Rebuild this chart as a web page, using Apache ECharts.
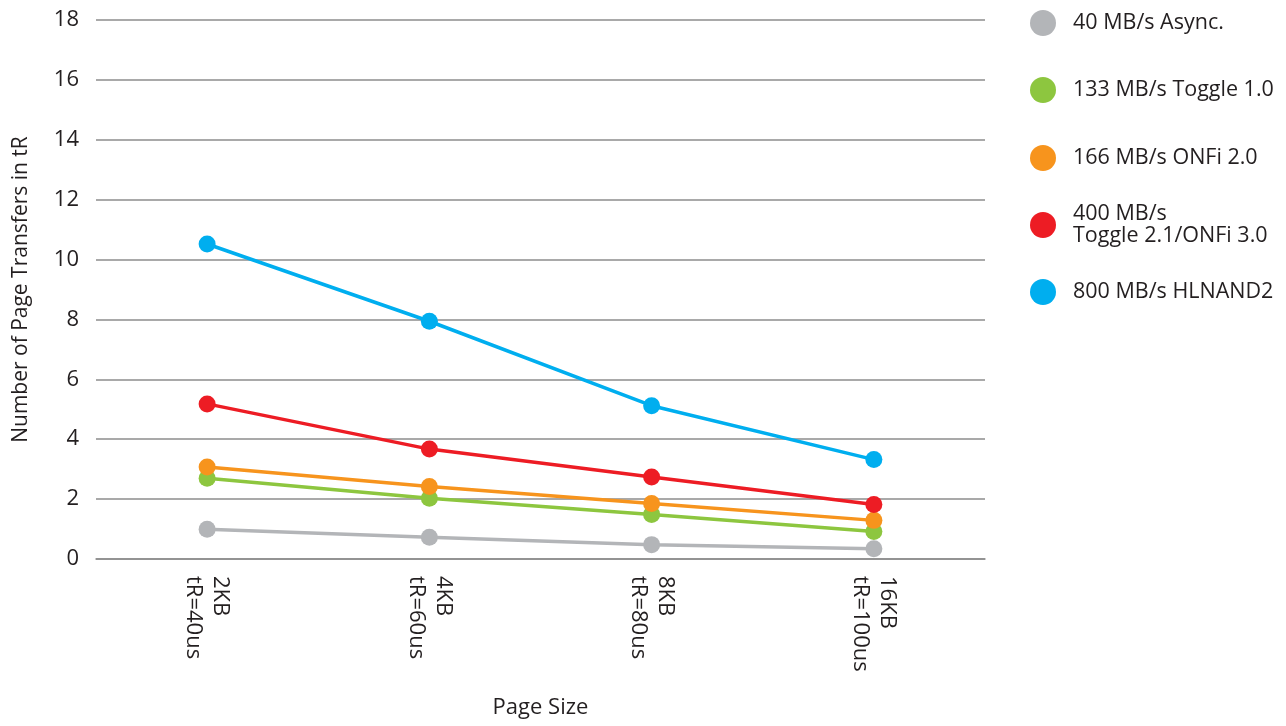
<!DOCTYPE html>
<html>
<head>
<meta charset="utf-8">
<script src="https://cdn.jsdelivr.net/npm/echarts@6/dist/echarts.min.js"></script>
<style>html,body{margin:0;padding:0;background:#fff;overflow:hidden}#c{width:1286px;height:726px}</style>
</head>
<body>
<div id="c"></div>
<script>
const categories = ['2KB\ntR=40us', '4KB\ntR=60us', '8KB\ntR=80us', '16KB\ntR=100us'];
const yTicks = [0, 2, 4, 6, 8, 10, 12, 14, 16, 18];
const seriesNames = ['40 MB/s Async.', '133 MB/s Toggle 1.0', '166 MB/s ONFi 2.0', '400 MB/s\nToggle 2.1/ONFi 3.0', '800 MB/s HLNAND2'];
const async40 = [0.99, 0.73, 0.48, 0.34];
const toggle133 = [2.70, 2.03, 1.49, 0.92];
const onfi166 = [3.07, 2.42, 1.85, 1.29];
const toggle400 = [5.18, 3.67, 2.74, 1.82];
const hlnand800 = [10.52, 7.94, 5.12, 3.32];
const colors = ['#b3b5b8', '#8dc63f', '#f7941d', '#ed1c24', '#00aeef'];

const FONT = '"Open Sans", sans-serif';
const TXT = '#231f20';
const values = [async40, toggle133, onfi166, toggle400, hlnand800];
const legendCenters = [23, 90, 158, 225, 292];

const chart = echarts.init(document.getElementById('c'));
chart.setOption({
  animation: false,
  textStyle: { fontFamily: FONT },
  grid: { left: 96, width: 889, top: 20, height: 539, containLabel: false },
  xAxis: {
    type: 'category',
    data: categories,
    boundaryGap: true,
    name: 'Page Size',
    nameLocation: 'middle',
    nameGap: 138,
    nameTextStyle: { fontSize: 22, lineHeight: 22, color: TXT, fontFamily: FONT },
    axisLine: { lineStyle: { color: '#8c8c8c', width: 1.5 } },
    axisTick: { length: 13, lineStyle: { color: '#8c8c8c', width: 1.5 } },
    axisLabel: { rotate: -90, interval: 0, margin: 17, fontSize: 22, lineHeight: 27, color: TXT, fontFamily: FONT },
    splitLine: { show: false }
  },
  yAxis: {
    type: 'value',
    min: yTicks[0],
    max: yTicks[yTicks.length - 1],
    interval: 2,
    name: 'Number of Page Transfers in tR',
    nameLocation: 'middle',
    nameGap: 64,
    nameTextStyle: { fontSize: 21, color: TXT, fontFamily: FONT },
    axisLine: { show: false },
    axisTick: { show: false },
    axisLabel: { margin: 17, fontSize: 22, color: TXT, fontFamily: FONT },
    splitLine: { lineStyle: { color: '#8c8c8c', width: 1.5 } }
  },
  legend: seriesNames.map((n, i) => ({
    data: [n],
    orient: 'vertical',
    left: 1030,
    top: i === 3 ? legendCenters[i] - 22 : legendCenters[i] - 13,
    padding: 0,
    icon: 'circle',
    itemWidth: 26,
    itemHeight: 26,
    itemGap: 0,
    selectedMode: false,
    textStyle: { fontSize: 21.5, lineHeight: 22, color: TXT, fontFamily: FONT, padding: [0, 0, 0, 12] }
  })),
  series: seriesNames.map((n, i) => ({
    name: n,
    type: 'line',
    data: values[i],
    color: colors[i],
    symbol: 'circle',
    symbolSize: 17,
    lineStyle: { width: 3.5, color: colors[i] },
    itemStyle: { color: colors[i] },
    z: 2 + i
  }))
});
</script>
</body>
</html>
